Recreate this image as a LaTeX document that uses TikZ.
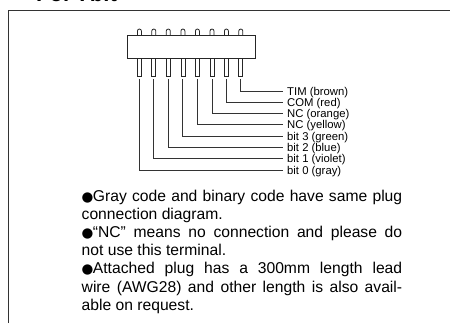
\documentclass[tikz,border=0pt]{standalone}
\usepackage{fontspec}
\setmainfont{Liberation Sans}
\newfontfamily\dotfont{DejaVu Sans}
\tikzset{
  frameline/.style={draw=black!80,line width=0.9bp},
  body/.style={draw=black!85,line width=0.9bp,fill=white,rectangle,inner sep=0pt,minimum width=128bp,minimum height=23bp},
  pinbox/.style={draw=black!85,line width=0.8bp,rectangle,inner sep=0pt,minimum width=4bp,minimum height=18bp},
  stub/.style={draw=black!85,line width=0.8bp},
  wire/.style={draw=black!80,line width=0.85bp,shorten <=3bp,shorten >=4bp},
  lbl/.style={inner sep=0pt,anchor=west,text height=8bp,text depth=0pt,font=\fontsize{11.3bp}{12bp}\selectfont,text=black},
  note/.style={inner sep=0pt,anchor=north west,text width=320.5bp,align=justify,font=\fontsize{15.66bp}{18.17bp}\selectfont,text=black},
  title/.style={inner sep=0pt,anchor=base west,font=\fontsize{22bp}{24bp}\selectfont\bfseries}
}
\newcommand{\bulletmark}{\makebox[11.2bp][l]{\dotfont\fontsize{13.5bp}{12bp}\selectfont ●}}
\begin{document}
\begin{tikzpicture}[x=1bp,y=-1bp]
\useasboundingbox (0,0) rectangle (450,323);
\begin{scope}
\clip (0,0) rectangle (450,323);
\node[title] (ttl) at (36,1.5) {For 7bit};
\end{scope}
\coordinate (fb) at (8.5,323);
\coordinate (ft) at (8.5,10.5);
\coordinate (fr) at (450,10.5);
\draw[frameline] (fb) -- (ft) -- (fr);
\node[body] (conn) at (191,46.5) {};
\foreach \n/\x/\yy/\t in {
 0/139.4/170/{bit 0 (gray)},
 1/153.8/158.5/{bit 1 (violet)},
 2/168.3/147.3/{bit 2 (blue)},
 3/182.9/136/{bit 3 (green)},
 4/197.4/124.7/{NC (yellow)},
 5/212/113.4/{NC (orange)},
 6/226.4/102.3/{COM (red)},
 7/240.8/91/{TIM (brown)}}{
  \node[pinbox] (pin\n) at (\x,67) {};
  \draw[stub] (\x-2,35) -- (\x-2,31) arc[start angle=180,end angle=360,radius=2] -- (\x+2,35);
  \node[lbl] (lab\n) at (287,\yy) {\t};
  \draw[wire] (pin\n.south) |- (lab\n.west);
}
\node[note] (n1) at (81.5,189.7) {\hangindent=8.7bp\hangafter=1 \bulletmark Gray code and binary code have same plug\linebreak connection diagram.};
\node[note] (n2) at (81.5,226) {\hangindent=8.7bp\hangafter=1 \bulletmark “NC” means no connection and please do\linebreak not use this terminal.};
\node[note] (n3) at (81.5,262.4) {\hangindent=8.7bp\hangafter=1 \bulletmark Attached plug has a 300mm length lead\linebreak wire (AWG28) and other length is also avail-\linebreak able on request.};
\end{tikzpicture}
\end{document}
